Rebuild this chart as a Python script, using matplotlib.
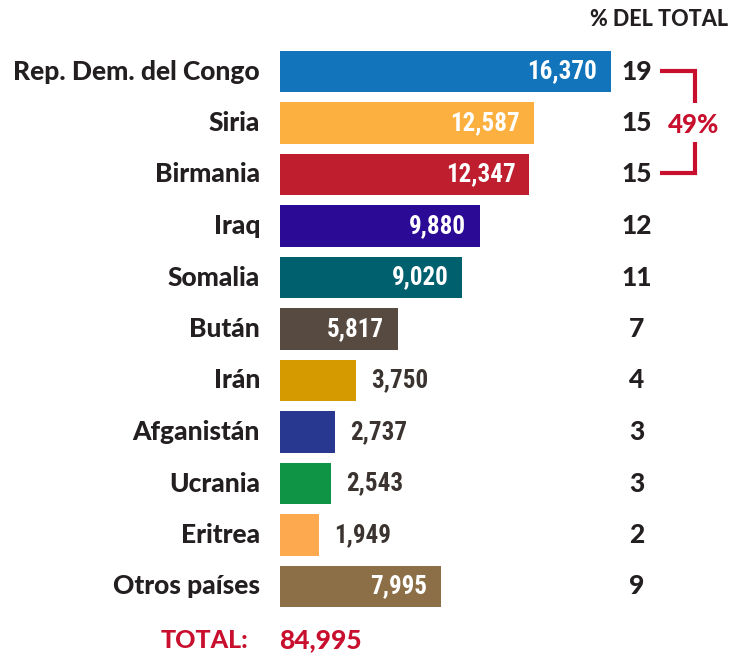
import matplotlib
matplotlib.use("Agg")
import matplotlib.pyplot as plt
from matplotlib import font_manager

countries = ["Rep. Dem. del Congo", "Siria", "Birmania", "Iraq", "Somalia", "Bután",
             "Irán", "Afganistán", "Ucrania", "Eritrea", "Otros países"]
values = [16370, 12587, 12347, 9880, 9020, 5817, 3750, 2737, 2543, 1949, 7995]
percents = [19, 15, 15, 12, 11, 7, 4, 3, 3, 2, 9]
total = 84995
top3_share = "49%"
colors = ["#1275bc", "#fbb040", "#be1e2d", "#2b0a96", "#00606e", "#574a41",
          "#d49a00", "#283891", "#0f9345", "#fda94f", "#8c6f47"]
inside = [True, True, True, True, True, True, False, False, False, False, True]

W, H = 746, 656
fig = plt.figure(figsize=(W / 100, H / 100), dpi=100)
ax = fig.add_axes([0, 0, 1, 1])
ax.axis("off")

SCALE = 0.0202      # pixels per unit
X0 = 280            # pixel where bars start
Y0, PITCH = 71.5, 51.5
ax.set_xlim(-X0 / SCALE, (W - X0) / SCALE)
ax.set_ylim((H - Y0) / PITCH, -Y0 / PITCH)

def px(x):
    return (x - X0) / SCALE

def py(y):
    return (y - Y0) / PITCH

names = set(f.name for f in font_manager.fontManager.ttflist)
lab_font = "Lato"
if "Roboto Condensed" in names:
    num_kw = dict(family="Roboto Condensed", fontweight="bold")
    num_size = 18
else:
    num_kw = dict(family="Lato", fontweight="black")
    num_size = 16

dark = "#231f20"
red = "#c8102e"

ypos = list(range(len(countries)))
ax.barh(ypos, values, height=0.8, color=colors)

for i, (c, v, p) in enumerate(zip(countries, values, percents)):
    ax.text(px(260), i, c, ha="right", va="center", fontsize=19,
            fontweight="black", family=lab_font, color=dark)
    lbl = f"{v:,}"
    if inside[i]:
        ax.text(v - 14 / SCALE, i, lbl, ha="right", va="center", fontsize=num_size,
                color="white", **num_kw)
    else:
        ax.text(v + 15 / SCALE, i, lbl, ha="left", va="center", fontsize=num_size,
                color="#3a3330", **num_kw)
    ax.text(px(637), i, str(p), ha="center", va="center", fontsize=19,
            fontweight="black", family=lab_font, color=dark)

ax.text(px(728), py(20), "% DEL TOTAL", ha="right", va="center", fontsize=15.5,
        fontweight="black", family=lab_font, color=dark)

# bracket
lw = 3
ax.plot([px(660), px(695), px(695)], [py(71), py(71), py(103)], color=red, lw=lw,
        solid_joinstyle="miter", solid_capstyle="butt")
ax.plot([px(695), px(695), px(660)], [py(142), py(173), py(173)], color=red, lw=lw,
        solid_joinstyle="miter", solid_capstyle="butt")
ax.text(px(694), py(125), top3_share, ha="center", va="center", fontsize=18.5,
        fontweight="black", family=lab_font, color=red)

ax.text(px(248), py(640), "TOTAL:", ha="right", va="center", fontsize=18,
        fontweight="black", family=lab_font, color=red)
ax.text(px(279), py(640), f"{total:,}", ha="left", va="center", fontsize=19,
        fontweight="black", family=lab_font, color=red)

fig.savefig("out.png", dpi=100)
